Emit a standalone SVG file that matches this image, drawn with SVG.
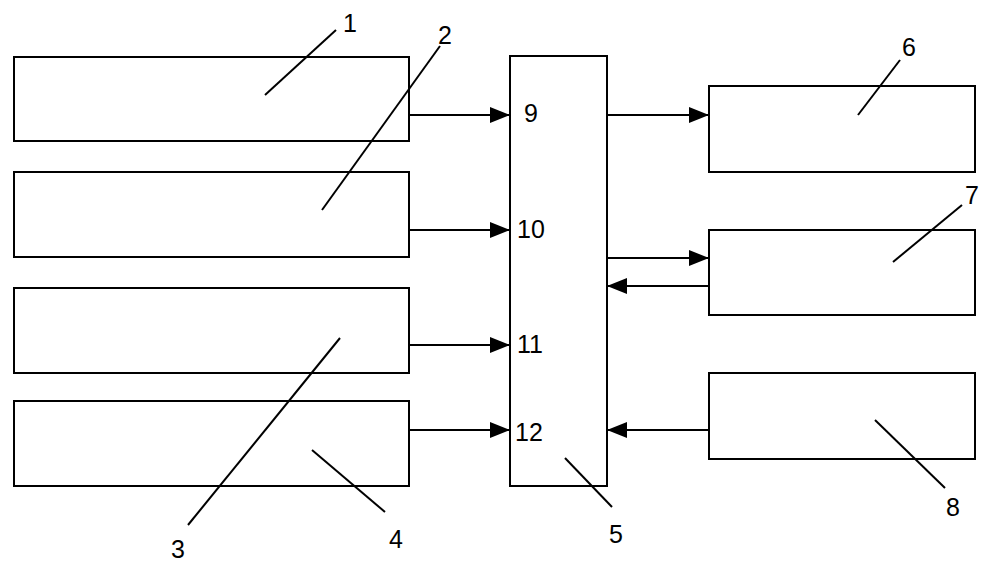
<svg xmlns="http://www.w3.org/2000/svg" width="1000" height="575" viewBox="0 0 1000 575">
<style>
rect{fill:#fff;stroke:#000;stroke-width:2}
line{stroke:#000;stroke-width:2}
text{font-family:"Liberation Sans",Arial,sans-serif;font-size:25px;fill:#000}
</style>
<defs><marker id="a" markerWidth="20" markerHeight="16" refX="20" refY="8" orient="auto" markerUnits="userSpaceOnUse" viewBox="0 0 20 16"><path d="M0,0 L20,8 L0,16 z" fill="#000"/></marker></defs>
<rect width="1000" height="575" style="stroke:none"/>
<g id="n1"><rect x="14" y="57" width="395" height="84"/><text x="343" y="32">1</text></g>
<g id="n2"><rect x="14" y="172" width="395" height="85"/><text x="438" y="44">2</text></g>
<g id="n3"><rect x="14" y="288" width="395" height="85"/><text x="171" y="558">3</text></g>
<g id="n4"><rect x="14" y="401" width="395" height="85"/><text x="389" y="548">4</text></g>
<g id="n5"><rect x="510" y="56" width="97" height="430"/><text x="524" y="122">9</text><text x="517" y="238">10</text><text x="517" y="353">11</text><text x="515" y="441">12</text><text x="609" y="543">5</text></g>
<g id="n6"><rect x="709" y="86" width="266" height="86"/><text x="902" y="56">6</text></g>
<g id="n7"><rect x="709" y="230" width="266" height="85"/><text x="965" y="204">7</text></g>
<g id="n8"><rect x="709" y="373" width="266" height="86"/><text x="946" y="516">8</text></g>
<g id="leaders">
<line x1="265" y1="95" x2="336" y2="30"/>
<line x1="322" y1="210" x2="440" y2="46"/>
<line x1="188" y1="525" x2="340" y2="338"/>
<line x1="312" y1="450" x2="385" y2="512"/>
<line x1="565" y1="458" x2="612" y2="507"/>
<line x1="858" y1="115" x2="900" y2="60"/>
<line x1="893" y1="262" x2="962" y2="205"/>
<line x1="875" y1="420" x2="945" y2="488"/>
</g>
<g id="connectors">
<line x1="409" y1="115" x2="510" y2="115" marker-end="url(#a)"/>
<line x1="409" y1="230" x2="510" y2="230" marker-end="url(#a)"/>
<line x1="409" y1="345" x2="510" y2="345" marker-end="url(#a)"/>
<line x1="409" y1="430" x2="510" y2="430" marker-end="url(#a)"/>
<line x1="607" y1="115" x2="709" y2="115" marker-end="url(#a)"/>
<line x1="607" y1="258" x2="709" y2="258" marker-end="url(#a)"/>
<line x1="709" y1="286" x2="607" y2="286" marker-end="url(#a)"/>
<line x1="709" y1="430" x2="607" y2="430" marker-end="url(#a)"/>
</g>
</svg>
